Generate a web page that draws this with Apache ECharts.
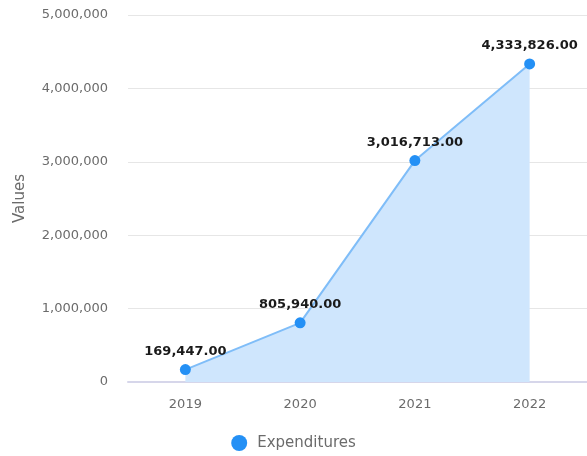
<!DOCTYPE html>
<html>
<head>
<meta charset="utf-8">
<script src="https://cdn.jsdelivr.net/npm/echarts@6/dist/echarts.min.js"></script>
<style>
  html, body { margin: 0; padding: 0; background: #ffffff; }
  #chart { width: 587px; height: 456px; }
</style>
</head>
<body>
<div id="chart"></div>
<script>
// Yearly expenditures
const years = ['2019', '2020', '2021', '2022'];
const expenditures = [169447, 805940, 3016713, 4333826];
const seriesName = 'Expenditures';
const axisName = 'Values';

const fontFamily = '"DejaVu Sans", "Open Sans", sans-serif';

const chart = echarts.init(document.getElementById('chart'), null, { renderer: 'canvas' });

chart.setOption({
  animation: false,
  backgroundColor: '#ffffff',
  textStyle: { fontFamily: fontFamily },
  grid: { left: 128, right: 0, top: 15, bottom: 74, containLabel: false },
  legend: {
    top: 430,
    left: 'center',
    icon: 'circle',
    itemWidth: 16,
    itemHeight: 16,
    itemGap: 10,
    textStyle: { color: '#6b6b6b', fontSize: 15, fontFamily: fontFamily, padding: [0, 0, 0, 5] },
    data: [seriesName]
  },
  xAxis: {
    type: 'category',
    data: years,
    boundaryGap: true,
    axisLine: { show: true, lineStyle: { color: '#d6d6ea', width: 2 } },
    axisTick: { show: false },
    axisLabel: { color: '#6b6b6b', fontSize: 13, margin: 16, fontFamily: fontFamily }
  },
  yAxis: {
    type: 'value',
    min: 0,
    max: 5000000,
    interval: 1000000,
    name: axisName,
    nameLocation: 'middle',
    nameGap: 100,
    nameTextStyle: { color: '#6b6b6b', fontSize: 15, fontFamily: fontFamily },
    axisLine: { show: false },
    axisTick: { show: false },
    axisLabel: {
      color: '#6b6b6b',
      fontSize: 13,
      margin: 20,
      fontFamily: fontFamily,
      formatter: v => v.toLocaleString('en-US')
    },
    splitLine: { lineStyle: { color: '#e6e6e6', width: 1 } }
  },
  series: [{
    name: seriesName,
    type: 'line',
    data: expenditures,
    symbol: 'circle',
    symbolSize: 11,
    itemStyle: { color: '#2490f5' },
    lineStyle: { color: '#7fbdf8', width: 2 },
    areaStyle: { color: '#cfe6fd', opacity: 1 },
    label: {
      show: true,
      position: 'top',
      distance: 6,
      color: '#1a1a1a',
      fontWeight: 'bold',
      fontSize: 13,
      fontFamily: fontFamily,
      formatter: p => p.value.toLocaleString('en-US', { minimumFractionDigits: 2, maximumFractionDigits: 2 })
    }
  }]
});
</script>
</body>
</html>
